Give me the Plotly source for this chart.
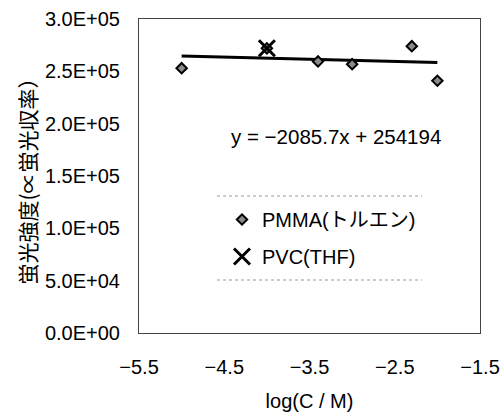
import plotly.graph_objects as go

# ---- data ----
pmma_x = [-5.0, -4.0, -3.4, -3.0, -2.3, -2.0]
pmma_y = [253000, 272000, 259500, 256800, 274000, 241000]
pvc_x = [-4.0]
pvc_y = [272000]
slope = -2085.7
intercept = 254194
fit_x = [min(pmma_x), max(pmma_x)]
fit_y = [slope * v + intercept for v in fit_x]

x_tickvals = [-5.5, -4.5, -3.5, -2.5, -1.5]
x_ticktext = ["\u22125.5", "\u22124.5", "\u22123.5", "\u22122.5", "\u22121.5"]
y_tickvals = [0, 50000, 100000, 150000, 200000, 250000, 300000]
y_ticktext = ["0.0E+00", "5.0E+04", "1.0E+05", "1.5E+05", "2.0E+05", "2.5E+05", "3.0E+05"]

FONT = "Liberation Sans, Arial, Noto Sans CJK JP, sans-serif"

fig = go.Figure()
fig.add_trace(go.Scatter(
    x=fit_x, y=fit_y, mode="lines",
    line=dict(color="black", width=3), showlegend=False, hoverinfo="skip"))
fig.add_trace(go.Scatter(
    x=pmma_x, y=pmma_y, mode="markers", name="PMMA(トルエン)",
    legendgroup="a",
    marker=dict(symbol="diamond", size=8, color="#8a8a8a",
                line=dict(color="black", width=2))))
fig.add_trace(go.Scatter(
    x=pvc_x, y=pvc_y, mode="markers", name="PVC(THF)",
    legendgroup="b",
    marker=dict(symbol="x-thin-open", size=16,
                line=dict(color="black", width=3), color="black")))

W, H = 501, 412
L, R, T, B = 139, 21, 19, 79
pw, ph = W - L - R, H - T - B

def px(xp):
    return (xp - L) / pw

def py(yp):
    return (H - B - yp) / ph

# legend dashed lines
for yy in [196, 280]:
    fig.add_shape(type="line", xref="paper", yref="paper",
                  x0=px(217), x1=px(422), y0=py(yy), y1=py(yy),
                  line=dict(color="#999", width=1, dash="dot"))

fig.add_annotation(
    xref="paper", yref="paper", x=px(336), y=py(136),
    text="y = \u22122085.7x + 254194", showarrow=False,
    font=dict(family=FONT, size=20.5, color="black"))

fig.update_layout(
    width=W, height=H,
    margin=dict(l=L, r=R, t=T, b=B),
    paper_bgcolor="white", plot_bgcolor="white",
    font=dict(family=FONT, size=20, color="black"),
    legend=dict(x=px(222), y=py(200), xanchor="left", yanchor="top",
                bgcolor="rgba(0,0,0,0)", tracegroupgap=8,
                traceorder="grouped",
                font=dict(family=FONT, size=20, color="black")),
    showlegend=True,
)
fig.update_xaxes(
    range=[-5.5, -1.5], tickvals=x_tickvals, ticktext=x_ticktext,
    showgrid=False, zeroline=False, showline=True, linecolor="#444",
    linewidth=1, mirror=True, ticks="", ticklabelstandoff=16,
    automargin=False,
    title=dict(text="log(C / M)", font=dict(family=FONT, size=20), standoff=18))
fig.update_yaxes(
    range=[0, 300000], tickvals=y_tickvals, ticktext=y_ticktext,
    showgrid=False, zeroline=False, showline=True, linecolor="#444",
    linewidth=1, mirror=True, ticks="", ticklabelstandoff=14,
    automargin=False,
    title=dict(text="蛍光強度(∝蛍光収率）",
               font=dict(family="Noto Sans CJK JP, sans-serif", size=21),
               standoff=2))

fig.write_html("out.html")
